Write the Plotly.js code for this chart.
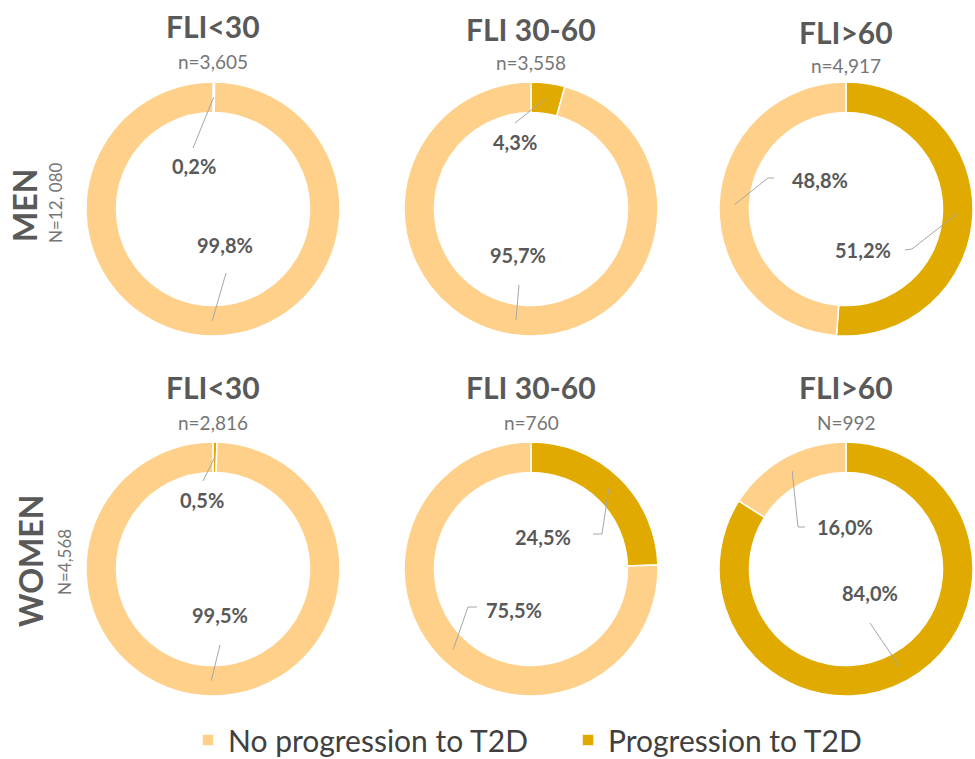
<!DOCTYPE html>
<html>
<head>
<meta charset="utf-8">
<script src="https://cdn.plot.ly/plotly-3.0.1.min.js"></script>
<style>html,body{margin:0;padding:0;background:#fff;}#chart{width:975px;height:759px;}</style>
</head>
<body>
<div id="chart"></div>
<script>
// ---------------- DATA ----------------
const groups = ['FLI<30', 'FLI 30-60', 'FLI>60'];
const legendLabels = ['No progression to T2D', 'Progression to T2D'];
const rowNames = ['MEN', 'WOMEN'];
const rowTotals = ['N=12, 080', 'N=4,568'];
const menCounts = ['n=3,605', 'n=3,558', 'n=4,917'];
const womenCounts = ['n=2,816', 'n=760', 'N=992'];
const menProgression = [0.2, 4.3, 51.2];
const menNoProgression = [99.8, 95.7, 48.8];
const womenProgression = [0.5, 24.5, 84.0];
const womenNoProgression = [99.5, 75.5, 16.0];

// ---------------- LAYOUT HELPERS ----------------
const W = 975, H = 759;
const px = x => x / W;
const py = y => 1 - y / H;
const colX = [213, 531, 846];
const rowY = [209, 569];
const R = 127;
const HOLE = 0.76;
const LIGHT = '#FFD08A';
const DARK = '#E1AA00';
const GREY = '#595959';
const LINE = '#A6A6A6';
const FONT = 'Lato, "Open Sans", sans-serif';

const rows = [
  {name: rowNames[0], total: rowTotals[0], counts: menCounts, prog: menProgression, noprog: menNoProgression},
  {name: rowNames[1], total: rowTotals[1], counts: womenCounts, prog: womenProgression, noprog: womenNoProgression}
];

// per-pie label placement (pixels): text centre, leader start, optional elbow
const place = [
  [ // men
    {prog: {t: [194, 166], s: [193, 148]}, noprog: {t: [225, 245], s: [226, 273]}},
    {prog: {t: [515, 142], s: [515, 123]}, noprog: {t: [518, 255], s: [519, 285]}},
    {prog: {t: [863, 250], s: [905, 250], e: [912, 249]}, noprog: {t: [820, 180], s: [774, 178], e: [768, 178]}}
  ],
  [ // women
    {prog: {t: [202, 500], s: [203, 481]}, noprog: {t: [220, 615], s: [220, 645]}},
    {prog: {t: [543, 537], s: [593, 534], e: [602, 534]}, noprog: {t: [514, 610], s: [477, 607], e: [468, 607]}},
    {prog: {t: [870, 593], s: [870, 623]}, noprog: {t: [845, 527], s: [805, 527], e: [798, 527]}}
  ]
];
const titleY = [[26, 29, 32], [387, 387, 387]];
const countY = [[61, 63, 66], [422, 422, 422]];

const fmt = v => v.toFixed(1).replace('.', ',') + '%';

const traces = [];
const annotations = [];
const shapes = [];
const rMid = R * (1 + HOLE) / 2;

rows.forEach((row, ri) => {
  const cy = rowY[ri];
  groups.forEach((g, ci) => {
    const cx = colX[ci];
    traces.push({
      type: 'pie',
      labels: [legendLabels[1], legendLabels[0]],
      values: [row.prog[ci], row.noprog[ci]],
      sort: false,
      direction: 'clockwise',
      rotation: 0,
      hole: HOLE,
      textinfo: 'none',
      hoverinfo: 'label+percent',
      marker: {colors: [DARK, LIGHT], line: {color: '#ffffff', width: 1.5}},
      domain: {x: [px(cx - R), px(cx + R)], y: [py(cy + R), py(cy - R)]},
      showlegend: ri === 0 && ci === 0
    });
    // titles
    annotations.push({text: '<b>' + g.replace('<', '&lt;').replace('>', '&gt;') + '</b>', x: px(cx), y: py(titleY[ri][ci]),
      xref: 'paper', yref: 'paper', showarrow: false, xanchor: 'center', yanchor: 'middle',
      font: {family: FONT, size: 30, color: GREY}});
    annotations.push({text: row.counts[ci], x: px(cx), y: py(countY[ri][ci]),
      xref: 'paper', yref: 'paper', showarrow: false, xanchor: 'center', yanchor: 'middle',
      font: {family: FONT, size: 19, color: '#767676'}});
    // slice labels + leader lines
    const p = row.prog[ci];
    const mids = {prog: p * 1.8, noprog: p * 3.6 + (100 - p) * 1.8};
    const vals = {prog: p, noprog: row.noprog[ci]};
    ['prog', 'noprog'].forEach(k => {
      const pl = place[ri][ci][k];
      const th = mids[k] * Math.PI / 180;
      const tip = [cx + rMid * Math.sin(th), cy - rMid * Math.cos(th)];
      annotations.push({text: '<b>' + fmt(vals[k]) + '</b>', x: px(pl.t[0]), y: py(pl.t[1]),
        xref: 'paper', yref: 'paper', showarrow: false, xanchor: 'center', yanchor: 'middle',
        font: {family: FONT, size: 20, color: GREY}});
      let path = 'M' + px(pl.s[0]) + ',' + py(pl.s[1]);
      if (pl.e) path += ' L' + px(pl.e[0]) + ',' + py(pl.e[1]);
      path += ' L' + px(tip[0]) + ',' + py(tip[1]);
      shapes.push({type: 'path', xref: 'paper', yref: 'paper', path: path,
        line: {color: LINE, width: 1}});
    });
  });
  // row labels
  annotations.push({text: '<b>' + row.name + '</b>', x: px(ri === 0 ? 24 : 30), y: py(ri === 0 ? 206 : 561),
    xref: 'paper', yref: 'paper', showarrow: false, textangle: -90, xanchor: 'center', yanchor: 'middle',
    font: {family: FONT, size: 32, color: GREY}});
  annotations.push({text: row.total, x: px(ri === 0 ? 56 : 64), y: py(ri === 0 ? 203 : 562),
    xref: 'paper', yref: 'paper', showarrow: false, textangle: -90, xanchor: 'center', yanchor: 'middle',
    font: {family: FONT, size: 17, color: '#767676'}});
});

const layout = {
  width: W, height: H,
  margin: {l: 0, r: 0, t: 0, b: 0, autoexpand: false},
  paper_bgcolor: '#ffffff',
  showlegend: true,
  legend: {orientation: 'h', x: px(188), xanchor: 'left', y: py(740), yanchor: 'middle',
    entrywidth: 335, entrywidthmode: 'pixels',
    font: {family: FONT, size: 30, color: '#404040'}, bgcolor: 'rgba(0,0,0,0)', traceorder: 'reversed'},
  annotations: annotations,
  shapes: shapes
};

Plotly.newPlot('chart', traces, layout, {displayModeBar: false, staticPlot: true});
</script>
</body>
</html>
